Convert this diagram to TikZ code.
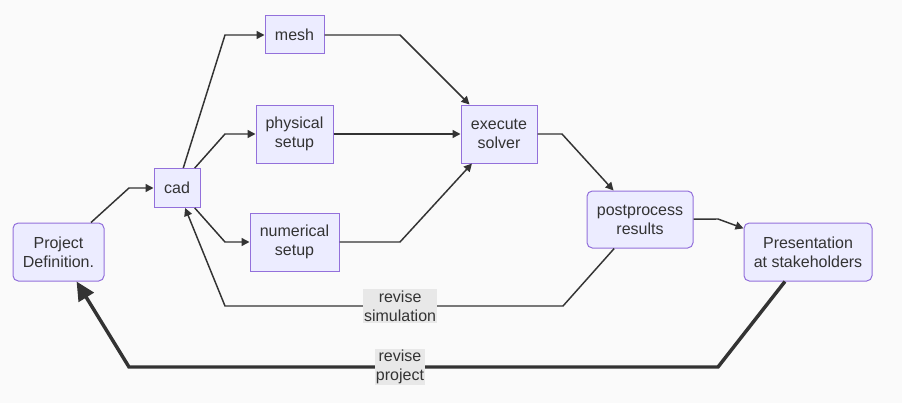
\documentclass[tikz,border=0pt]{standalone}
\usepackage{fontspec}
\setmainfont{Liberation Sans}
\usetikzlibrary{arrows.meta}
\definecolor{boxfill}{HTML}{ECECFF}
\definecolor{boxline}{HTML}{9370DB}
\definecolor{ink}{HTML}{333333}
\definecolor{lblfill}{HTML}{E8E8E8}
\definecolor{bgc}{HTML}{FAFAFA}

\begin{document}
\begin{tikzpicture}[x=0.75pt, y=-0.75pt, every node/.style={font=\fontsize{12}{14.25}\selectfont, text=ink}, >={Triangle[length=6pt, width=6pt]}, bx/.style={draw=boxline, fill=boxfill, line width=0.75pt, align=center, inner sep=0pt}, rbx/.style={bx, rounded corners=4pt}, ln/.style={draw=ink, line width=1.1pt, ->}, lbl/.style={fill=lblfill, inner sep=1pt, align=center}]
	\fill[bgc] (0,0) rectangle (902,403);
	\node[rbx, minimum width=68.25pt, minimum height=43.5pt] (proj) at (58.5,252) {Project\\Definition.};
	\node[bx, minimum width=34.5pt, minimum height=29.25pt] (cad) at (177,188) {cad};
	\node[bx, minimum width=44.25pt, minimum height=28.5pt] (mesh) at (294.5,35) {mesh};
	\node[bx, minimum width=57.75pt, minimum height=43.5pt] (phys) at (294.5,134) {physical\\setup};
	\node[bx, minimum width=66.75pt, minimum height=43.5pt] (num) at (294.5,242) {numerical\\setup};
	\node[bx, minimum width=57pt, minimum height=43.5pt] (solve) at (499,134) {execute\\solver};
	\node[rbx, minimum width=79.5pt, minimum height=42.75pt] (post) at (640,219.5) {postprocess\\results};
	\node[rbx, minimum width=96pt, minimum height=43.5pt] (pres) at (808,252) {Presentation\\at stakeholders};
	\draw[ln] (proj) -- (129,188) -- (cad);
	\draw[ln] (cad) -- (225,35) -- (mesh);
	\draw[ln] (cad) -- (225,134) -- (phys);
	\draw[ln] (cad) -- (225,242) -- (num);
	\draw[ln] (mesh) -- (400,35) -- (solve);
	\draw[ln] (phys) -- (solve);
	\draw[ln] (num) -- (400,242) -- (solve);
	\draw[ln] (solve) -- (562,134) -- (post);
	\draw[ln] (post) -- (718,219) -- (pres);
	\draw[ln] (post) -- (563,306) -- node[lbl, pos=0.482] {revise\\simulation} (225,306) -- (cad);
	\draw[ln, line width=2.6pt, -{Triangle[length=14pt, width=13pt]}] (pres) -- (718,367) -- node[lbl, pos=0.54] {revise\\project} (129,367) -- (proj);
\end{tikzpicture}
\end{document}
